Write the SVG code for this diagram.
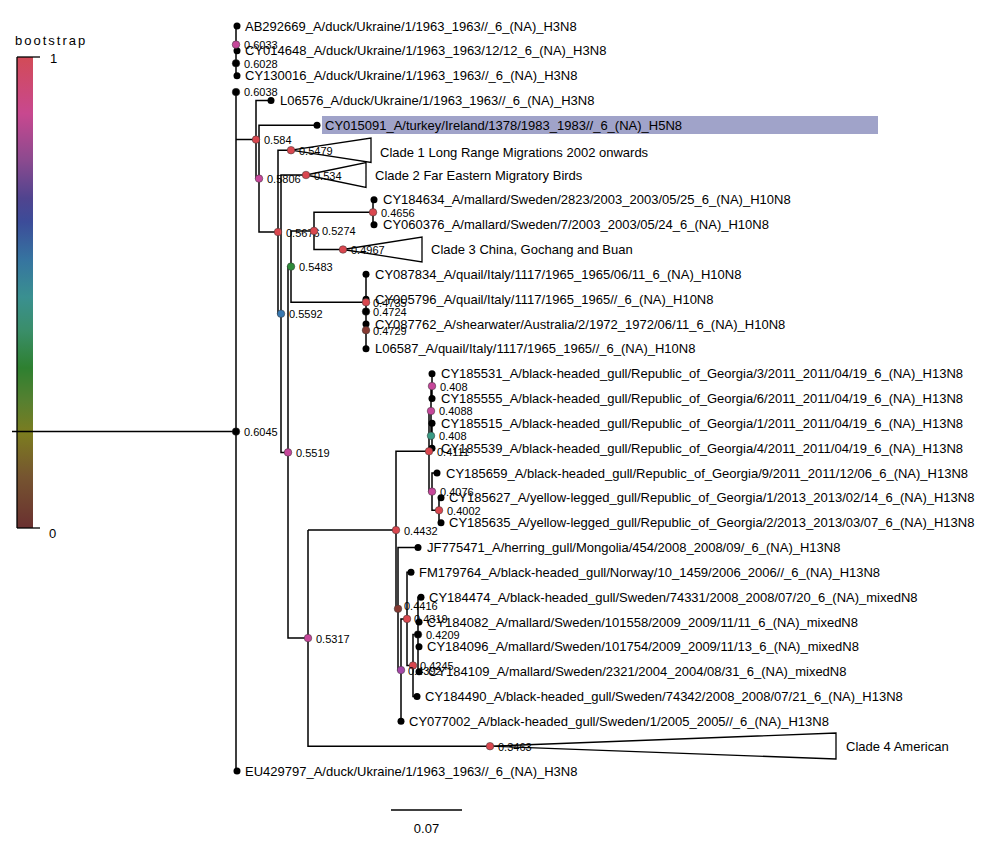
<svg xmlns="http://www.w3.org/2000/svg" width="1000" height="850" viewBox="0 0 1000 850">
<style>
.lf{font-family:"Liberation Sans",Arial,sans-serif;font-size:13px;fill:#000}
.nl{font-family:"Liberation Sans",Arial,sans-serif;font-size:11px;fill:#000}
.br{fill:none;stroke:#000;stroke-width:1.5}
.tri{fill:#fff;stroke:#000;stroke-width:1.3}
.lv{fill:#000}
.nd{stroke:#333;stroke-width:0.5}
.red{fill:#d9474f}.pink{fill:#c6479a}.grn{fill:#2e8b3a}.blu{fill:#3878b0}.teal{fill:#3a9a84}.brn{fill:#873a32}.pur{fill:#a548a8}.blk{fill:#000}
</style>
<defs>
<linearGradient id="bs" x1="0" y1="0" x2="0" y2="1">
<stop offset="0" stop-color="#d24b57"/>
<stop offset="0.12" stop-color="#c8488f"/>
<stop offset="0.22" stop-color="#8b4a8f"/>
<stop offset="0.30" stop-color="#50448f"/>
<stop offset="0.35" stop-color="#3c4c99"/>
<stop offset="0.43" stop-color="#3674a0"/>
<stop offset="0.51" stop-color="#3a9090"/>
<stop offset="0.58" stop-color="#3a8e6a"/>
<stop offset="0.66" stop-color="#2e8030"/>
<stop offset="0.73" stop-color="#568030"/>
<stop offset="0.80" stop-color="#7c7c20"/>
<stop offset="0.89" stop-color="#765530"/>
<stop offset="1" stop-color="#6a3030"/>
</linearGradient>
</defs>
<rect width="1000" height="850" fill="#fff"/>

<g id="legend">
<text class="lf" x="15" y="45" letter-spacing="2">bootstrap</text>
<rect x="17" y="57" width="16" height="471" fill="url(#bs)"/>
<line x1="17" y1="57" x2="17" y2="528" stroke="#000" stroke-width="1.3"/>
<line x1="17" y1="57" x2="40" y2="57" stroke="#000" stroke-width="1.3"/>
<line x1="17" y1="528" x2="40" y2="528" stroke="#000" stroke-width="1.3"/>
<text class="lf" x="50" y="63">1</text>
<text class="lf" x="49" y="538">0</text>
</g>

<g id="highlight">
<rect x="322" y="116" width="556" height="18" fill="#a0a3c9"/>
</g>

<g id="connectors">
<path class="br" d="M12 431.6 H236
M236 92.1 V771 H237
M237 26 H236 V63.3
M237 50.8 H236 V75.7 H237
M236 139.6 H256
M271 100.5 H256 V178.6 H259
M317 125.3 H259 V232 H278
M291 150.2 H278 V313.7 H281
M306 175 H281 V452.4 H288
M291 266.6 H288 V638.1 H308
M314 230.9 H291 V302.3 H366
M373 212.3 H314 V249.5 H343
M374 199.8 H373 V224.7 H374
M366 274.3 V348.8
M308 530.1 V746.2 H490
M308 530.1 H396
M429 451.3 H396 V608.8 H398
M431 411 H429 V491.6 H432
M432 386.1 H431 V435.8 H432
M432 373.7 V398.5
M432 423.3 V448.2
M437 473 H432 V510.3 H439
M441 497.8 H439 V522.7 H441
M418 547.5 H398 V670.1 H401
M407 618.9 H401 V721.3
M411 572.3 H407 V665.5 H413
M418 634.5 H413 V696.5 H417
M421 597.2 H418 V671.7 H419
M418 622 H419
M418 646.8 H419"/>
<polygon class="tri" points="291,150.2 371,138 371,162.5"/>
<polygon class="tri" points="306,175 366,162.5 366,187.5"/>
<polygon class="tri" points="343,249.5 422,237 422,262"/>
<polygon class="tri" points="490,746.2 836,733 836,759"/>
</g>

<g id="leaves">
<circle class="lv" cx="237" cy="26" r="3.5"/><text class="lf" x="245" y="30.5">AB292669_A/duck/Ukraine/1/1963_1963//_6_(NA)_H3N8</text>
<circle class="lv" cx="237" cy="50.8" r="3.5"/><text class="lf" x="245" y="55.3">CY014648_A/duck/Ukraine/1/1963_1963/12/12_6_(NA)_H3N8</text>
<circle class="lv" cx="237" cy="75.7" r="3.5"/><text class="lf" x="245" y="80.2">CY130016_A/duck/Ukraine/1/1963_1963//_6_(NA)_H3N8</text>
<circle class="lv" cx="271" cy="100.5" r="3.5"/><text class="lf" x="280" y="105">L06576_A/duck/Ukraine/1/1963_1963//_6_(NA)_H3N8</text>
<circle class="lv" cx="317" cy="125.3" r="3.5"/><text class="lf" x="325" y="129.8" fill="#101040">CY015091_A/turkey/Ireland/1378/1983_1983//_6_(NA)_H5N8</text>
<text class="lf" x="380" y="156.7">Clade 1 Long Range Migrations 2002 onwards</text>
<text class="lf" x="375" y="179.5">Clade 2 Far Eastern Migratory Birds</text>
<circle class="lv" cx="374" cy="199.8" r="3.5"/><text class="lf" x="383" y="204.3">CY184634_A/mallard/Sweden/2823/2003_2003/05/25_6_(NA)_H10N8</text>
<circle class="lv" cx="374" cy="224.7" r="3.5"/><text class="lf" x="383" y="229.2">CY060376_A/mallard/Sweden/7/2003_2003/05/24_6_(NA)_H10N8</text>
<text class="lf" x="431" y="254">Clade 3 China, Gochang and Buan</text>
<circle class="lv" cx="366" cy="274.3" r="3.5"/><text class="lf" x="375" y="278.8">CY087834_A/quail/Italy/1117/1965_1965/06/11_6_(NA)_H10N8</text>
<circle class="lv" cx="366" cy="299.2" r="3.5"/><text class="lf" x="375" y="303.7">CY005796_A/quail/Italy/1117/1965_1965//_6_(NA)_H10N8</text>
<circle class="lv" cx="366" cy="324" r="3.5"/><text class="lf" x="375" y="328.5">CY087762_A/shearwater/Australia/2/1972_1972/06/11_6_(NA)_H10N8</text>
<circle class="lv" cx="366" cy="348.8" r="3.5"/><text class="lf" x="375" y="353.3">L06587_A/quail/Italy/1117/1965_1965//_6_(NA)_H10N8</text>
<circle class="lv" cx="432" cy="373.7" r="3.5"/><text class="lf" x="441" y="378.2">CY185531_A/black-headed_gull/Republic_of_Georgia/3/2011_2011/04/19_6_(NA)_H13N8</text>
<circle class="lv" cx="432" cy="398.5" r="3.5"/><text class="lf" x="441" y="403">CY185555_A/black-headed_gull/Republic_of_Georgia/6/2011_2011/04/19_6_(NA)_H13N8</text>
<circle class="lv" cx="432" cy="423.3" r="3.5"/><text class="lf" x="441" y="427.8">CY185515_A/black-headed_gull/Republic_of_Georgia/1/2011_2011/04/19_6_(NA)_H13N8</text>
<circle class="lv" cx="432" cy="448.2" r="3.5"/><text class="lf" x="441" y="452.7">CY185539_A/black-headed_gull/Republic_of_Georgia/4/2011_2011/04/19_6_(NA)_H13N8</text>
<circle class="lv" cx="437" cy="473" r="3.5"/><text class="lf" x="446" y="477.5">CY185659_A/black-headed_gull/Republic_of_Georgia/9/2011_2011/12/06_6_(NA)_H13N8</text>
<circle class="lv" cx="441" cy="497.8" r="3.5"/><text class="lf" x="449" y="502.3">CY185627_A/yellow-legged_gull/Republic_of_Georgia/1/2013_2013/02/14_6_(NA)_H13N8</text>
<circle class="lv" cx="441" cy="522.7" r="3.5"/><text class="lf" x="449" y="527.2">CY185635_A/yellow-legged_gull/Republic_of_Georgia/2/2013_2013/03/07_6_(NA)_H13N8</text>
<circle class="lv" cx="418" cy="547.5" r="3.5"/><text class="lf" x="427" y="552">JF775471_A/herring_gull/Mongolia/454/2008_2008/09/_6_(NA)_H13N8</text>
<circle class="lv" cx="411" cy="572.3" r="3.5"/><text class="lf" x="419" y="576.8">FM179764_A/black-headed_gull/Norway/10_1459/2006_2006//_6_(NA)_H13N8</text>
<circle class="lv" cx="421" cy="597.2" r="3.5"/><text class="lf" x="429" y="601.7">CY184474_A/black-headed_gull/Sweden/74331/2008_2008/07/20_6_(NA)_mixedN8</text>
<circle class="lv" cx="419" cy="622" r="3.5"/><text class="lf" x="427" y="626.5">CY184082_A/mallard/Sweden/101558/2009_2009/11/11_6_(NA)_mixedN8</text>
<circle class="lv" cx="419" cy="646.8" r="3.5"/><text class="lf" x="427" y="651.3">CY184096_A/mallard/Sweden/101754/2009_2009/11/13_6_(NA)_mixedN8</text>
<circle class="lv" cx="419" cy="671.7" r="3.5"/><text class="lf" x="428" y="676.2">CY184109_A/mallard/Sweden/2321/2004_2004/08/31_6_(NA)_mixedN8</text>
<circle class="lv" cx="417" cy="696.5" r="3.5"/><text class="lf" x="425" y="701">CY184490_A/black-headed_gull/Sweden/74342/2008_2008/07/21_6_(NA)_H13N8</text>
<circle class="lv" cx="401" cy="721.3" r="3.5"/><text class="lf" x="409" y="725.8">CY077002_A/black-headed_gull/Sweden/1/2005_2005//_6_(NA)_H13N8</text>
<text class="lf" x="846" y="750.5">Clade 4 American</text>
<circle class="lv" cx="237" cy="771" r="3.5"/><text class="lf" x="245" y="775.5">EU429797_A/duck/Ukraine/1/1963_1963//_6_(NA)_H3N8</text>
</g>

<g id="nodes">
<g id="n6045"><circle class="nd blk" cx="236" cy="431.6" r="3.8"/><text class="nl" x="244" y="436">0.6045</text></g>
<g id="n6038"><circle class="nd blk" cx="236" cy="92.1" r="3.8"/><text class="nl" x="244" y="96">0.6038</text></g>
<g id="n6033"><circle class="nd pink" cx="236" cy="44.6" r="3.8"/><text class="nl" x="244" y="49">0.6033</text></g>
<g id="n6028"><circle class="nd blk" cx="236" cy="63.3" r="3.8"/><text class="nl" x="244" y="67.5">0.6028</text></g>
<g id="n584"><circle class="nd red" cx="256" cy="139.6" r="3.8"/><text class="nl" x="264" y="144">0.584</text></g>
<g id="n5806"><circle class="nd pink" cx="259" cy="178.6" r="3.8"/><text class="nl" x="267" y="183">0.5806</text></g>
<g id="n5479"><circle class="nd red" cx="291" cy="150.2" r="3.8"/><text class="nl" x="299" y="154.5">0.5479</text></g>
<g id="n534"><circle class="nd red" cx="306" cy="175" r="3.8"/><text class="nl" x="314" y="179.5">0.534</text></g>
<g id="n5676"><circle class="nd red" cx="278" cy="232" r="3.8"/><text class="nl" x="286" y="236.5">0.5676</text></g>
<g id="n5274"><circle class="nd red" cx="314" cy="230.9" r="3.8"/><text class="nl" x="322" y="235.3">0.5274</text></g>
<g id="n4656"><circle class="nd red" cx="373" cy="212.3" r="3.8"/><text class="nl" x="381" y="216.7">0.4656</text></g>
<g id="n4967"><circle class="nd red" cx="343" cy="249.5" r="3.8"/><text class="nl" x="351" y="254">0.4967</text></g>
<g id="n5483"><circle class="nd grn" cx="291" cy="266.6" r="3.8"/><text class="nl" x="299" y="271">0.5483</text></g>
<g id="n5592"><circle class="nd blu" cx="281" cy="313.7" r="3.8"/><text class="nl" x="289" y="318">0.5592</text></g>
<g id="n4735"><circle class="nd red" cx="366" cy="302.3" r="3.8"/><text class="nl" x="373" y="306.5">0.4735</text></g>
<g id="n4724"><circle class="nd blk" cx="366" cy="311.6" r="3.8"/><text class="nl" x="373" y="316">0.4724</text></g>
<g id="n4729"><circle class="nd brn" cx="366" cy="330.2" r="3.8"/><text class="nl" x="373" y="334.5">0.4729</text></g>
<g id="n5519"><circle class="nd pink" cx="288" cy="452.4" r="3.8"/><text class="nl" x="296" y="456.8">0.5519</text></g>
<g id="n5317"><circle class="nd pink" cx="308" cy="638.1" r="3.8"/><text class="nl" x="316" y="642.5">0.5317</text></g>
<g id="n408a"><circle class="nd pink" cx="432" cy="386.1" r="3.8"/><text class="nl" x="440" y="390.5">0.408</text></g>
<g id="n4088"><circle class="nd pink" cx="431" cy="411" r="3.8"/><text class="nl" x="439" y="415.4">0.4088</text></g>
<g id="n408b"><circle class="nd teal" cx="431" cy="435.8" r="3.8"/><text class="nl" x="439" y="440.2">0.408</text></g>
<g id="n4111"><circle class="nd red" cx="429" cy="451.3" r="3.8"/><text class="nl" x="437" y="455.7">0.4111</text></g>
<g id="n4076"><circle class="nd pink" cx="432" cy="491.6" r="3.8"/><text class="nl" x="440" y="496">0.4076</text></g>
<g id="n4002"><circle class="nd red" cx="439" cy="510.3" r="3.8"/><text class="nl" x="447" y="514.7">0.4002</text></g>
<g id="n4432"><circle class="nd red" cx="396" cy="530.1" r="3.8"/><text class="nl" x="404" y="534.5">0.4432</text></g>
<g id="n4416"><circle class="nd brn" cx="398" cy="608.8" r="3.8"/><text class="nl" x="404" y="610">0.4416</text></g>
<g id="n4319"><circle class="nd red" cx="407" cy="618.9" r="3.8"/><text class="nl" x="414" y="623">0.4319</text></g>
<g id="n4209"><circle class="nd blk" cx="418" cy="634.5" r="3.8"/><text class="nl" x="426" y="638.9">0.4209</text></g>
<g id="n4245"><circle class="nd red" cx="413" cy="665.5" r="3.8"/><text class="nl" x="420" y="669.5">0.4245</text></g>
<g id="n4392"><circle class="nd pur" cx="401" cy="670.1" r="3.8"/><text class="nl" x="408" y="674.5">0.4392</text></g>
<g id="n3463"><circle class="nd red" cx="490" cy="746.2" r="3.8"/><text class="nl" x="498" y="750.5">0.3463</text></g>
</g>

<g id="scale">
<line x1="391" y1="810" x2="462" y2="810" stroke="#000" stroke-width="1.5"/>
<text class="lf" x="426.5" y="833" text-anchor="middle">0.07</text>
</g>
</svg>
